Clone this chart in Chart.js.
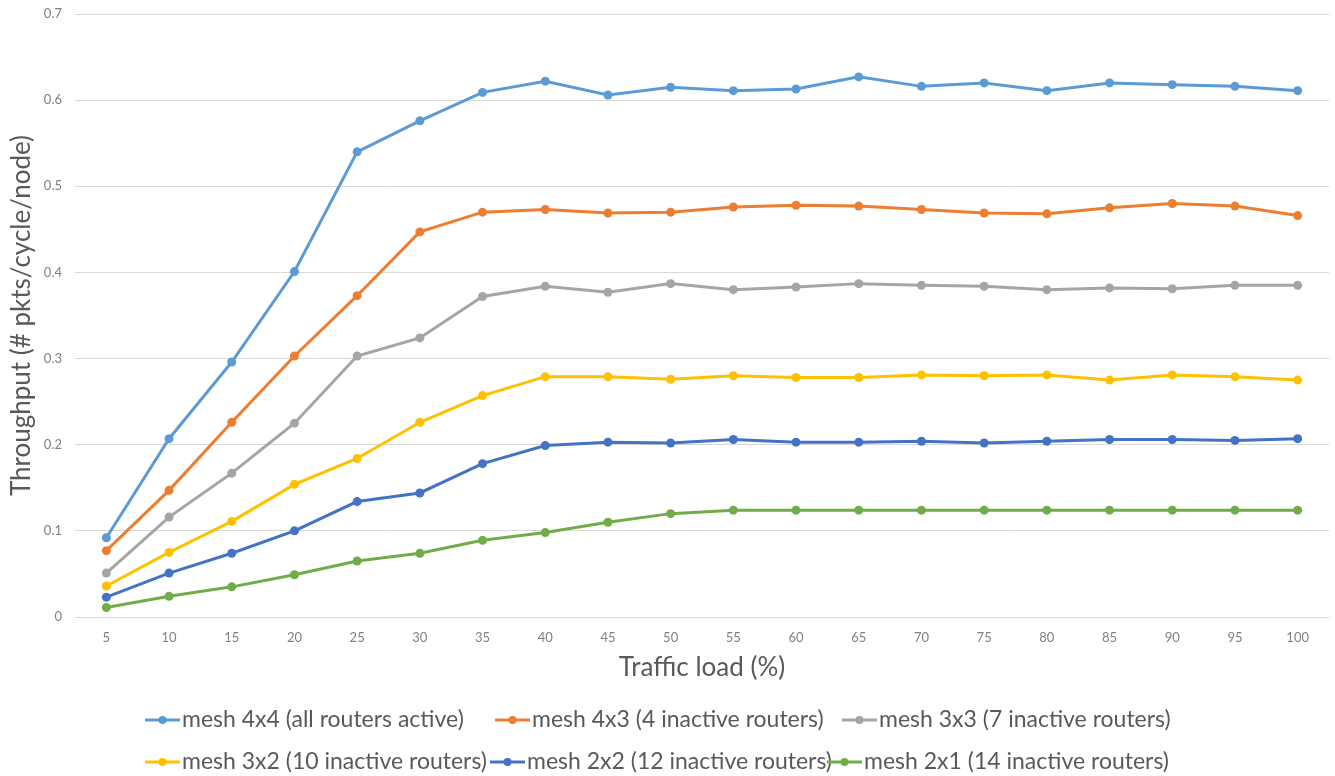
<!DOCTYPE html>
<html>
<head>
<meta charset="utf-8">
<title>Throughput vs traffic load</title>
<script src="https://cdn.jsdelivr.net/npm/chart.js@4/dist/chart.umd.min.js"></script>
<style>
  html, body { margin: 0; padding: 0; background: #ffffff; }
  #wrap { width: 1335px; height: 776px; position: relative; }
</style>
</head>
<body>
<div id="wrap"><canvas id="chart" width="1335" height="776"></canvas></div>
<script>
// Traffic load steps (%)
const loads = ['5','10','15','20','25','30','35','40','45','50','55','60','65','70','75','80','85','90','95','100'];

// Throughput (# pkts/cycle/node) per mesh configuration
const mesh4x4 = [0.092,0.207,0.296,0.401,0.540,0.576,0.609,0.622,0.606,0.615,0.611,0.613,0.627,0.616,0.620,0.611,0.620,0.618,0.616,0.611];
const mesh4x3 = [0.077,0.147,0.226,0.303,0.373,0.447,0.470,0.473,0.469,0.470,0.476,0.478,0.477,0.473,0.469,0.468,0.475,0.480,0.477,0.466];
const mesh3x3 = [0.051,0.116,0.167,0.225,0.303,0.324,0.372,0.384,0.377,0.387,0.380,0.383,0.387,0.385,0.384,0.380,0.382,0.381,0.385,0.385];
const mesh3x2 = [0.036,0.075,0.111,0.154,0.184,0.226,0.257,0.279,0.279,0.276,0.280,0.278,0.278,0.281,0.280,0.281,0.275,0.281,0.279,0.275];
const mesh2x2 = [0.023,0.051,0.074,0.100,0.134,0.144,0.178,0.199,0.203,0.202,0.206,0.203,0.203,0.204,0.202,0.204,0.206,0.206,0.205,0.207];
const mesh2x1 = [0.011,0.024,0.035,0.049,0.065,0.074,0.089,0.098,0.110,0.120,0.124,0.124,0.124,0.124,0.124,0.124,0.124,0.124,0.124,0.124];

// Series names
const seriesNames = [
  'mesh 4x4 (all routers active)',
  'mesh 4x3 (4 inactive routers)',
  'mesh 3x3 (7 inactive routers)',
  'mesh 3x2 (10 inactive routers)',
  'mesh 2x2 (12 inactive routers)',
  'mesh 2x1 (14 inactive routers)'
];

// Y-axis tick labels
const yTickLabels = ['0','0.1','0.2','0.3','0.4','0.5','0.6','0.7'];

const seriesColors = ['#5B9BD5','#ED7D31','#A5A5A5','#FFC000','#4472C4','#70AD47'];
const seriesValues = [mesh4x4, mesh4x3, mesh3x3, mesh3x2, mesh2x2, mesh2x1];

const FONT = 'Lato, "Open Sans", "DejaVu Sans", sans-serif';

// Legend drawn as a three-column grid under the axis title
const gridLegend = {
  id: 'gridLegend',
  afterDraw(chart) {
    const ctx = chart.ctx;
    const colX = [[145, 495, 842], [145, 490, 827]];
    const rowY = [720, 762];
    ctx.save();
    ctx.font = '23px ' + FONT;
    ctx.textBaseline = 'middle';
    ctx.textAlign = 'left';
    chart.data.datasets.forEach((ds, i) => {
      const r = Math.floor(i / 3), c = i % 3;
      const x = colX[r][c], y = rowY[r];
      ctx.strokeStyle = ds.borderColor;
      ctx.lineWidth = 3;
      ctx.beginPath();
      ctx.moveTo(x, y);
      ctx.lineTo(x + 35, y);
      ctx.stroke();
      ctx.fillStyle = ds.borderColor;
      ctx.beginPath();
      ctx.arc(x + 17.5, y, 4, 0, Math.PI * 2);
      ctx.fill();
      ctx.fillStyle = '#595959';
      ctx.fillText(ds.label, x + 37, y);
    });
    ctx.restore();
  }
};

new Chart(document.getElementById('chart'), {
  type: 'line',
  data: {
    labels: loads,
    datasets: seriesValues.map((vals, i) => ({
      label: seriesNames[i],
      data: vals,
      borderColor: seriesColors[i],
      backgroundColor: seriesColors[i],
      borderWidth: 3,
      pointRadius: 4.5,
      pointHoverRadius: 4.5,
      pointBorderWidth: 0,
      tension: 0,
      fill: false
    }))
  },
  options: {
    responsive: false,
    animation: false,
    devicePixelRatio: 1,
    layout: { padding: { left: 0, right: 6, top: 14, bottom: 93 } },
    plugins: {
      legend: { display: false },
      tooltip: { enabled: false }
    },
    scales: {
      x: {
        offset: true,
        grid: { display: false, drawTicks: false },
        border: { display: false },
        ticks: { color: '#808080', font: { family: FONT, size: 13 }, padding: 13, maxRotation: 0, autoSkip: false },
        title: { display: true, text: 'Traffic load (%)', color: '#595959', font: { family: FONT, size: 26 }, padding: { top: 8, bottom: 0 } },
        afterFit(scale) { scale.height = 66; }
      },
      y: {
        min: 0,
        max: 0.7,
        ticks: {
          stepSize: 0.1,
          color: '#808080',
          font: { family: FONT, size: 13 },
          padding: 13,
          callback: (v, idx) => yTickLabels[idx]
        },
        grid: { color: '#d9d9d9', lineWidth: 1, drawTicks: false },
        border: { display: false },
        title: { display: true, text: 'Throughput (# pkts/cycle/node)', color: '#595959', font: { family: FONT, size: 26 }, padding: { top: 6, bottom: 0 } },
        afterFit(scale) {
          scale.width = 75;
          scale.paddingTop = 0;
          scale.paddingBottom = 0;
        }
      }
    }
  },
  plugins: [gridLegend]
});
</script>
</body>
</html>
